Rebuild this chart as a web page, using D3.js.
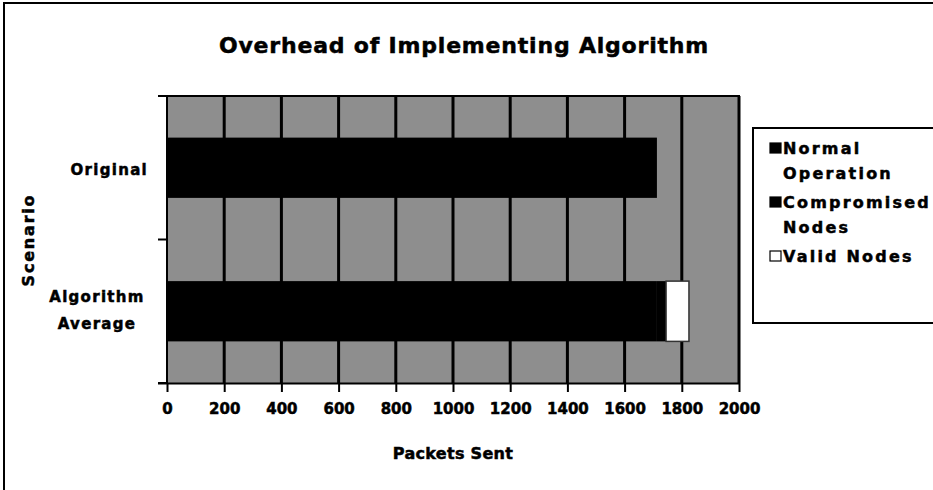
<!DOCTYPE html>
<html>
<head>
<meta charset="utf-8">
<script src="https://cdn.jsdelivr.net/npm/d3@7/dist/d3.min.js"></script>
<style>
  html, body { margin: 0; padding: 0; background: #fff; }
  svg { display: block; }
  text { font-family: "DejaVu Sans", "Liberation Sans", sans-serif; font-weight: bold; fill: #000; stroke: #000; stroke-width: 0.5px; }
</style>
</head>
<body>
<svg id="chart" width="933" height="490"></svg>
<script>
// ---- data ----
const categories = ["Original", "Algorithm Average"];
const seriesNames = ["Normal Operation", "Compromised Nodes", "Valid Nodes"];
const normalOperation = [1713, 1713];
const compromisedNodes = [0, 32];
const validNodes = [0, 80];
const xTicks = [0, 200, 400, 600, 800, 1000, 1200, 1400, 1600, 1800, 2000];
const seriesColors = ["#000000", "#000000", "#ffffff"];

const title = "Overhead of Implementing Algorithm";
const xTitle = "Packets Sent";
const yTitle = "Scenario";

// ---- layout ----
const svg = d3.select("#chart");
const plot = { left: 167, right: 739, top: 96, bottom: 383 };

const x = d3.scaleLinear().domain([0, 2000]).range([plot.left, plot.right]);
const y = d3.scaleBand().domain(categories).range([plot.top, plot.bottom])
  .paddingInner(0.58).paddingOuter(0.29);
const yCat = d3.scaleBand().domain(categories).range([plot.top, plot.bottom]);

// outer frame
svg.append("path")
  .attr("d", "M4,490 L4,3 L933,3")
  .attr("fill", "none").attr("stroke", "#000").attr("stroke-width", 2);

// title
svg.append("text")
  .attr("x", 464).attr("y", 53)
  .attr("text-anchor", "middle")
  .attr("font-size", 22)
  .attr("letter-spacing", 0.8)
  .text(title);

// plot background
svg.append("rect")
  .attr("x", plot.left).attr("y", plot.top)
  .attr("width", plot.right - plot.left).attr("height", plot.bottom - plot.top)
  .attr("fill", "#8e8e8e");

// vertical grid lines
svg.append("g").selectAll("line").data(xTicks.slice(1)).join("line")
  .attr("x1", d => x(d)).attr("x2", d => x(d))
  .attr("y1", plot.top).attr("y2", plot.bottom)
  .attr("stroke", "#000").attr("stroke-width", 3);

// top border
svg.append("line")
  .attr("x1", plot.left - 9).attr("x2", plot.right + 1)
  .attr("y1", plot.top).attr("y2", plot.top)
  .attr("stroke", "#000").attr("stroke-width", 2);

// stacked bars
const rows = categories.map((c, i) => ({
  cat: c,
  "Normal Operation": normalOperation[i],
  "Compromised Nodes": compromisedNodes[i],
  "Valid Nodes": validNodes[i]
}));
const stacked = d3.stack().keys(seriesNames)(rows);

svg.append("g").selectAll("g").data(stacked).join("g")
  .attr("fill", (d, i) => seriesColors[i])
  .attr("stroke", (d, i) => i === 2 ? "#333" : "none")
  .attr("stroke-width", 1.5)
  .selectAll("rect").data(d => d.filter(v => v[1] - v[0] > 0)).join("rect")
  .attr("x", d => x(d[0]))
  .attr("width", d => x(d[1]) - x(d[0]))
  .attr("y", d => y(d.data.cat))
  .attr("height", y.bandwidth());

// x axis
const xAxis = d3.axisBottom(x).tickValues(xTicks).tickSize(9).tickPadding(11).tickFormat(d3.format("d"));
const gx = svg.append("g").attr("transform", `translate(0,${plot.bottom})`).call(xAxis);
gx.select(".domain").attr("d", `M${plot.left - 9},0.5H${plot.right}`).attr("stroke", "#000").attr("stroke-width", 2);
gx.selectAll(".tick line").attr("stroke", "#000").attr("stroke-width", 2);
gx.selectAll(".tick text")
  .attr("font-family", "DejaVu Sans, sans-serif")
  .attr("font-weight", "bold")
  .attr("font-size", 15)
  .attr("fill", "#000")
  .attr("stroke", "#000").attr("stroke-width", 0.5);

// y axis line + ticks at category boundaries
const yBounds = [plot.top, ...categories.map(c => yCat(c) + yCat.bandwidth())];
svg.append("line")
  .attr("x1", plot.left).attr("x2", plot.left)
  .attr("y1", plot.top).attr("y2", plot.bottom)
  .attr("stroke", "#000").attr("stroke-width", 2);
svg.append("g").selectAll("line").data(yBounds).join("line")
  .attr("x1", plot.left - 9).attr("x2", plot.left)
  .attr("y1", d => d).attr("y2", d => d)
  .attr("stroke", "#000").attr("stroke-width", 2);

// category labels
const catLines = { "Original": ["Original"], "Algorithm Average": ["Algorithm", "Average"] };
categories.forEach(c => {
  const lines = catLines[c];
  const cy = yCat(c) + yCat.bandwidth() / 2;
  if (lines.length === 1) {
    svg.append("text")
      .attr("x", 148).attr("y", cy + 7)
      .attr("text-anchor", "end")
      .attr("font-size", 15).attr("letter-spacing", 1.3)
      .text(lines[0]);
  } else {
    lines.forEach((l, k) => {
      svg.append("text")
        .attr("x", 97).attr("y", cy - 9 + k * 27)
        .attr("text-anchor", "middle")
        .attr("font-size", 15).attr("letter-spacing", 1.3)
        .text(l);
    });
  }
});

// axis titles
svg.append("text")
  .attr("x", 453).attr("y", 459)
  .attr("text-anchor", "middle")
  .attr("font-size", 16).attr("letter-spacing", 0.3)
  .text(xTitle);

svg.append("text")
  .attr("transform", "translate(34,240) rotate(-90)")
  .attr("text-anchor", "middle")
  .attr("font-size", 16).attr("letter-spacing", 1.8)
  .text(yTitle);

// legend
const lg = svg.append("g");
lg.append("rect")
  .attr("x", 753).attr("y", 128)
  .attr("width", 200).attr("height", 195)
  .attr("fill", "#fff").attr("stroke", "#000").attr("stroke-width", 2);

const legendLines = [["Normal", "Operation"], ["Compromised", "Nodes"], ["Valid Nodes"]];
const legendY = [154, 208, 262];
seriesNames.forEach((s, i) => {
  lg.append("rect")
    .attr("x", 770).attr("y", legendY[i] - 11)
    .attr("width", 11).attr("height", 10)
    .attr("fill", seriesColors[i])
    .attr("stroke", "#000").attr("stroke-width", 1.2);
  legendLines[i].forEach((l, k) => {
    lg.append("text")
      .attr("x", 783).attr("y", legendY[i] + k * 25)
      .attr("font-size", 16).attr("letter-spacing", 2.2)
      .text(l);
  });
});
</script>
</body>
</html>
